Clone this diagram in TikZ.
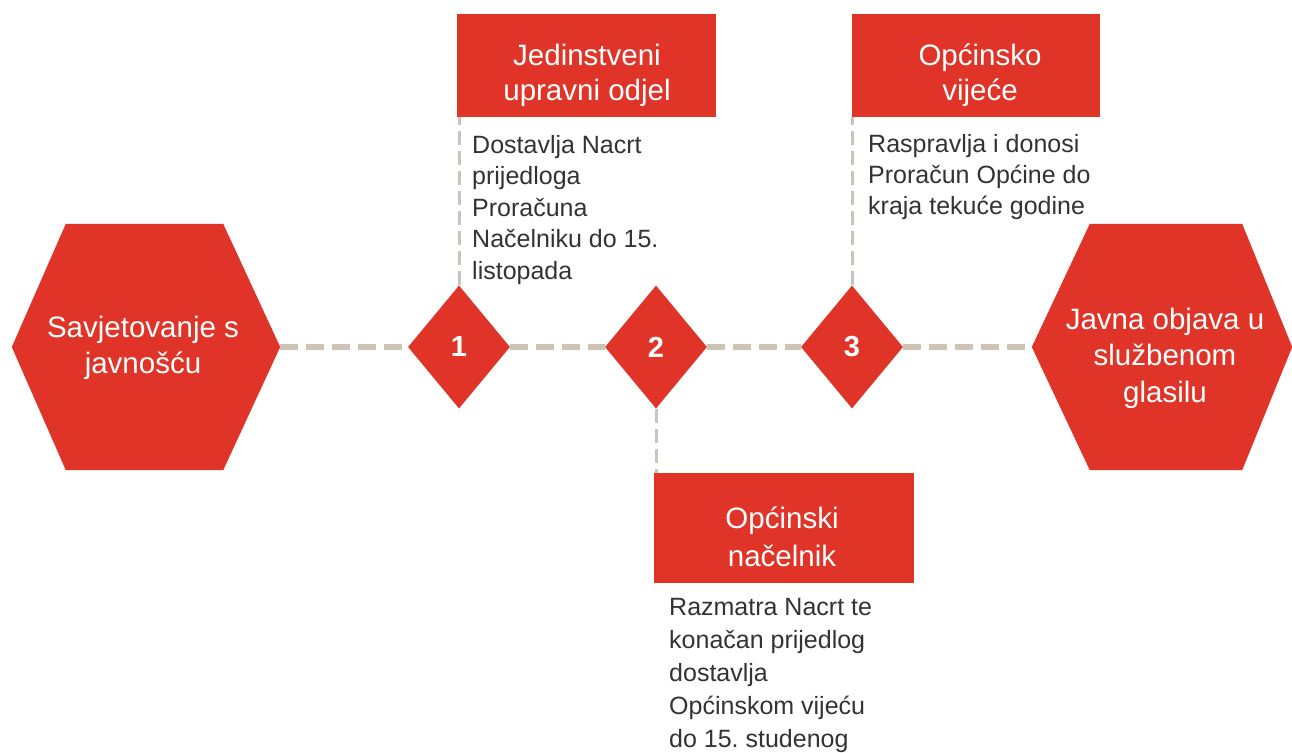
\documentclass[tikz,border=0pt]{standalone}
\usepackage{fontspec}
\setmainfont{Liberation Sans}
\usetikzlibrary{shapes.geometric}
\definecolor{mainred}{HTML}{E03428}
\definecolor{dashbeige}{HTML}{CDC4B5}
\definecolor{dashgray}{HTML}{C9C5BE}
\definecolor{bodygray}{HTML}{333333}
\tikzset{
  hdrbox/.style={rectangle, fill=mainred, inner sep=0, minimum width=#1, minimum height=103},
  hdrtext/.style={anchor=base, align=center, inner sep=0, text=white, font=\fontsize{29.5}{#1}\selectfont},
  hextext/.style={anchor=base, align=center, inner sep=0, text=white, font=\fontsize{29.5}{36.5}\selectfont},
  bodytext/.style={anchor=base west, align=left, inner sep=0, text=bodygray, font=\fontsize{25}{#1}\selectfont},
  hexframe/.style={rectangle, inner sep=0, minimum width=#1, minimum height=246},
  stepdiamond/.style={diamond, fill=mainred, inner sep=0, minimum width=102, minimum height=123, text=white, font=\fontsize{29}{29}\selectfont\bfseries},
  mainline/.style={draw=dashbeige, line width=6pt, dash pattern=on 18pt off 8pt},
  sideline/.style={draw=dashgray, line width=3pt, dash pattern=on 14pt off 6pt}
}
\begin{document}
\frenchspacing
\begin{tikzpicture}[x=1pt,y=-1pt]
\useasboundingbox[fill=white] (0,0) rectangle (1292,752);

% hexagons (frames)
\node[hexframe=268] (hexL) at (146,347) {};
\node[hexframe=260] (hexR) at (1162,347) {};
\fill[mainred] (hexL.west) -- ([xshift=54]hexL.north west) -- ([xshift=-57]hexL.north east) -- (hexL.east)
  -- ([xshift=-57]hexL.south east) -- ([xshift=54]hexL.south west) -- cycle;
\fill[mainred] (hexR.west) -- ([xshift=58]hexR.north west) -- ([xshift=-50]hexR.north east) -- (hexR.east)
  -- ([xshift=-50]hexR.south east) -- ([xshift=58]hexR.south west) -- cycle;

% header boxes
\node[hdrbox=259, anchor=north west] (h1) at (457,14) {};
\node[hdrbox=248, anchor=north west] (h2) at (852,14) {};
\node[hdrbox=260, anchor=north west, minimum height=110] (h3) at (654,473) {};

% diamonds
\node[stepdiamond] (d1) at (459,347) {1};
\node[stepdiamond] (d2) at (656,347) {2};
\node[stepdiamond] (d3) at (852,347) {3};

% connectors
\draw[mainline] (hexL.east) -- (d1.west);
\draw[mainline] (d1.east) -- (d2.west);
\draw[mainline] (d2.east) -- (d3.west);
\draw[mainline] (d3.east) -- (hexR.west);
\draw[sideline] (d1.north) -- (d1.north |- h1.south);
\draw[sideline] (d3.north) -- (d3.north |- h2.south);
\draw[sideline] (d2.south) -- (d2.south |- h3.north);

% texts (anchor = baseline of last line)
\node[hextext] (tL) at (143,373.5) {Savjetovanje s\\javnošću};
\node[hextext] (tR) at (1165,402) {Javna objava u\\službenom\\glasilu};

\node[hdrtext=35] (th1) at (587,100) {Jedinstveni\\upravni odjel};
\node[hdrtext=35] (th2) at (980,100) {Općinsko\\vijeće};
\node[hdrtext=38] (th3) at (782,566) {Općinski\\načelnik};

\node[bodytext=31.5] (b1) at (472,279) {Dostavlja Nacrt\\prijedloga\\Proračuna\\Načelniku do 15.\\listopada};
\node[bodytext=31] (b2) at (868,214) {Raspravlja i donosi\\Proračun Općine do\\kraja tekuće godine};
\begin{scope}
\clip (654,585) rectangle (874,752);
\node[bodytext=33] (b3) at (669,747) {Razmatra Nacrt te\\konačan prijedlog\\dostavlja\\Općinskom vijeću\\do 15. studenog};
\end{scope}
\end{tikzpicture}
\end{document}
